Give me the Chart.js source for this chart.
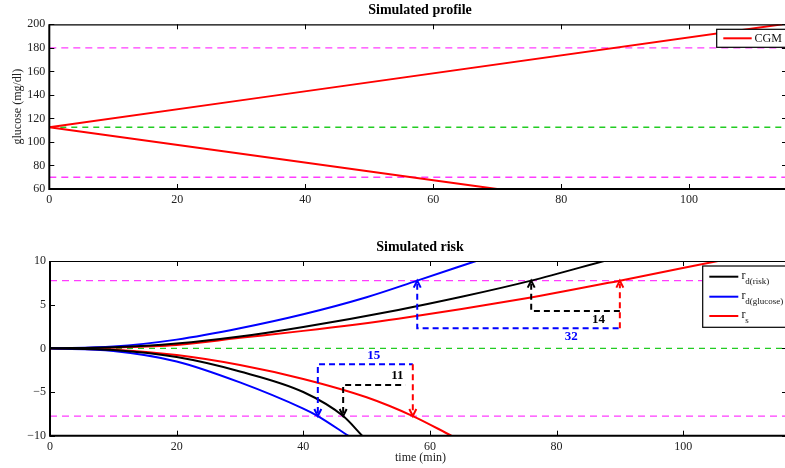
<!DOCTYPE html>
<html>
<head>
<meta charset="utf-8">
<script src="https://cdn.jsdelivr.net/npm/chart.js@4.4.0/dist/chart.umd.min.js"></script>
<style>
  html, body { margin: 0; padding: 0; background: #fff; overflow: hidden; width: 785px; height: 468px; }
  canvas { position: absolute; left: 0; }
  #profile { top: 0; }
  #risk { top: 230px; }
</style>
</head>
<body>
<canvas id="profile" width="800" height="215"></canvas>
<canvas id="risk" width="800" height="238"></canvas>
<script>
// ---- axis ticks ----
const timeTicks = [0, 20, 40, 60, 80, 100];
const glucoseTicks = [60, 80, 100, 120, 140, 160, 180, 200];
const riskTicks = [-10, -5, 0, 5, 10];

// ---- simulated glucose profile (mg/dl) ----
const cgmRiseTimes = [0, 114.6];
const cgmRiseValues = [112.5, 200];
const cgmFallTimes = [0, 70];
const cgmFallValues = [112.5, 60];
const glucoseBounds = [70, 180];
const glucoseTarget = 112.5;

// ---- simulated risk ----
const riskBounds = [-7.75, 7.75];
const riskZero = 0;

// r_d(risk)
const drRiseTimes = [0, 10, 20, 30, 40, 55, 65, 76, 87.5];
const drRiseValues = [0, 0.12, 0.55, 1.35, 2.45, 4.4, 5.9, 7.75, 10];
const drFallTimes = [0, 10, 20, 30, 40, 46.3, 49.3];
const drFallValues = [0, -0.2, -1.0, -2.65, -5.0, -7.75, -10];

// r_d(glucose)
const dgRiseTimes = [0, 10, 20, 30, 40, 50, 58, 67.3];
const dgRiseValues = [0, 0.2, 1.0, 2.3, 3.9, 5.85, 7.75, 10];
const dgFallTimes = [0, 10, 20, 30, 40, 42.3, 47.1];
const dgFallValues = [0, -0.3, -1.5, -3.9, -6.9, -7.75, -10];

// r_s
const rsRiseTimes = [0, 10, 20, 30, 40, 55, 75, 90, 105.5];
const rsRiseValues = [0, 0.1, 0.39, 1.2, 2.0, 3.4, 5.7, 7.75, 10];
const rsFallTimes = [0, 10, 20, 30, 40, 50, 57.3, 63.4];
const rsFallValues = [0, -0.15, -0.76, -1.9, -3.5, -5.6, -7.75, -10];

// threshold crossing times used for the lead-time brackets [r_d(glucose), r_d(risk), r_s]
const riseCrossings = [58, 76, 90];
const fallCrossings = [42.3, 46.3, 57.3];
// bracket heights (risk units) [r_d(glucose) bar, r_d(risk) bar]
const riseBars = [2.3, 4.28];
const fallBars = [-1.82, -4.2];

const seriesSubscripts = ['d(risk)', 'd(glucose)', 's'];
const seriesColors = ['#000000', '#0000ff', '#ff0000'];

const SERIF = '"Liberation Serif", "Times New Roman", Times, serif';
const pts = (ts, vs) => ts.map((t, i) => ({ x: t, y: vs[i] }));
const flat = (v, t1) => [{ x: 0, y: v }, { x: t1, y: v }];

function curve(label, color, data) {
  return { label, data, borderColor: color, borderWidth: 2, pointRadius: 0,
           cubicInterpolationMode: 'monotone', fill: false };
}
function refLine(color, v, t1, dash) {
  return { label: '', data: flat(v, t1), borderColor: color, borderWidth: 1.3,
           borderDash: dash, pointRadius: 0, fill: false };
}

function scaleOpts(min, max, ticks, pad, fmt) {
  return {
    type: 'linear', min, max,
    afterBuildTicks: s => { s.ticks = ticks.map(v => ({ value: v })); },
    grid: { display: false, drawTicks: false },
    border: { display: false },
    ticks: { font: { family: SERIF, size: 12 }, color: '#222', padding: pad,
             maxRotation: 0, autoSkip: false, callback: fmt || (v => String(v)) }
  };
}

// box with inward tick marks on all four sides
function drawFrame(chart) {
  const { ctx, chartArea: a } = chart;
  const xs = chart.scales.x, ys = chart.scales.y;
  ctx.save();
  ctx.strokeStyle = '#000';
  ctx.lineWidth = 1;
  ctx.beginPath();
  xs.ticks.forEach(t => {
    const p = Math.round(xs.getPixelForValue(t.value)) + 0.5;
    ctx.moveTo(p, a.bottom); ctx.lineTo(p, a.bottom - 5);
    ctx.moveTo(p, a.top); ctx.lineTo(p, a.top + 5);
  });
  ys.ticks.forEach(t => {
    const p = Math.round(ys.getPixelForValue(t.value)) + 0.5;
    ctx.moveTo(a.left, p); ctx.lineTo(a.left + 5, p);
    ctx.moveTo(a.right, p); ctx.lineTo(a.right - 5, p);
  });
  ctx.stroke();
  ctx.lineWidth = 1.2;
  ctx.beginPath();
  ctx.moveTo(a.left, a.top + 0.5); ctx.lineTo(a.right, a.top + 0.5);
  ctx.moveTo(a.right - 0.5, a.top); ctx.lineTo(a.right - 0.5, a.bottom);
  ctx.stroke();
  ctx.lineWidth = 2;
  ctx.beginPath();
  ctx.moveTo(a.left, a.top); ctx.lineTo(a.left, a.bottom);
  ctx.lineTo(a.right, a.bottom);
  ctx.stroke();
  ctx.restore();
}

function drawText(ctx, text, x, y, font, color, align) {
  ctx.save();
  ctx.font = font; ctx.fillStyle = color || '#000';
  ctx.textAlign = align || 'center'; ctx.textBaseline = 'middle';
  ctx.fillText(text, x, y);
  ctx.restore();
}

function arrowHead(ctx, x, y, up, color) {
  const d = up ? 1 : -1;
  ctx.save();
  ctx.setLineDash([]);
  ctx.strokeStyle = color; ctx.lineWidth = 2;
  ctx.beginPath();
  ctx.moveTo(x - 3.5, y + d * 7); ctx.lineTo(x, y); ctx.lineTo(x + 3.5, y + d * 7);
  ctx.stroke();
  ctx.restore();
}

function dashed(ctx, color, path) {
  ctx.save();
  ctx.strokeStyle = color; ctx.lineWidth = 2; ctx.setLineDash([6, 4]);
  ctx.beginPath();
  path.forEach((p, i) => i ? ctx.lineTo(p[0], p[1]) : ctx.moveTo(p[0], p[1]));
  ctx.stroke();
  ctx.restore();
}

// ---------------- glucose profile ----------------
new Chart(document.getElementById('profile'), {
  type: 'line',
  data: {
    datasets: [
      curve('CGM', '#ff0000', pts(cgmRiseTimes, cgmRiseValues)),
      curve('CGM', '#ff0000', pts(cgmFallTimes, cgmFallValues)),
      refLine('#ff3cff', glucoseBounds[1], 120, [7, 5]),
      refLine('#ff3cff', glucoseBounds[0], 120, [7, 5]),
      refLine('#22cc22', glucoseTarget, 120, [6, 5])
    ]
  },
  options: {
    responsive: false, animation: false,
    layout: { padding: { left: 0, right: 13, top: 24.3, bottom: 0 } },
    plugins: { legend: { display: false }, tooltip: { enabled: false }, title: { display: false } },
    scales: {
      x: Object.assign(scaleOpts(0, 115.3, timeTicks, 4), { afterFit: s => { s.height = 26; } }),
      y: Object.assign(scaleOpts(60, 200, glucoseTicks, 4), { afterFit: s => { s.width = 49.3; } })
    }
  },
  plugins: [{
    id: 'profileDecor',
    afterDraw(chart) {
      const { ctx } = chart;
      drawFrame(chart);
      drawText(ctx, 'Simulated profile', 420, 10.5, `bold 14px ${SERIF}`);
      ctx.save();
      ctx.translate(18, 106.7); ctx.rotate(-Math.PI / 2);
      drawText(ctx, 'glucose (mg/dl)', 0, 0, `12px ${SERIF}`, '#222');
      ctx.restore();
      // legend
      const ds = chart.data.datasets[0];
      ctx.save();
      ctx.fillStyle = '#fff'; ctx.strokeStyle = '#000'; ctx.lineWidth = 1.2;
      ctx.fillRect(716.7, 29.3, 90, 18);
      ctx.strokeRect(716.7, 29.3, 90, 18);
      ctx.strokeStyle = ds.borderColor; ctx.lineWidth = 2;
      ctx.beginPath(); ctx.moveTo(723.3, 38.3); ctx.lineTo(751.7, 38.3); ctx.stroke();
      ctx.restore();
      drawText(ctx, ds.label, 754.5, 38.8, `12px ${SERIF}`, '#111', 'left');
    }
  }]
});

// ---------------- risk ----------------
const riskEnd = 120;
new Chart(document.getElementById('risk'), {
  type: 'line',
  data: {
    datasets: [
      curve('r_d(risk)', seriesColors[0], pts(drRiseTimes, drRiseValues)),
      curve('r_d(risk)', seriesColors[0], pts(drFallTimes, drFallValues)),
      curve('r_d(glucose)', seriesColors[1], pts(dgRiseTimes, dgRiseValues)),
      curve('r_d(glucose)', seriesColors[1], pts(dgFallTimes, dgFallValues)),
      curve('r_s', seriesColors[2], pts(rsRiseTimes, rsRiseValues)),
      curve('r_s', seriesColors[2], pts(rsFallTimes, rsFallValues)),
      refLine('#ff3cff', riskBounds[1], riskEnd, [7, 5]),
      refLine('#ff3cff', riskBounds[0], riskEnd, [7, 5]),
      refLine('#22cc22', riskZero, riskEnd, [6, 5])
    ]
  },
  options: {
    responsive: false, animation: false,
    layout: { padding: { left: 0, right: 13, top: 31, bottom: 0 } },
    plugins: { legend: { display: false }, tooltip: { enabled: false }, title: { display: false } },
    scales: {
      x: Object.assign(scaleOpts(0, 116.4, timeTicks, 4), { afterFit: s => { s.height = 32.3; } }),
      y: Object.assign(scaleOpts(-10, 10, riskTicks, 4, v => (v < 0 ? '\u2212' + Math.abs(v) : String(v))),
                       { afterFit: s => { s.width = 50; } })
    }
  },
  plugins: [{
    id: 'riskDecor',
    afterDatasetsDraw(chart) {
      const { ctx } = chart;
      const xs = chart.scales.x, ys = chart.scales.y;
      const X = t => xs.getPixelForValue(t), Y = v => ys.getPixelForValue(v);
      const [cB, cK, cR] = [seriesColors[1], seriesColors[0], seriesColors[2]];
      const numFont = `bold 13px ${SERIF}`;

      // rising side: lead times to the upper threshold
      const [ug, ud, us] = riseCrossings;
      const top = riskBounds[1];
      dashed(ctx, cB, [[X(ug), Y(top) + 3], [X(ug), Y(riseBars[0])], [X(us), Y(riseBars[0])]]);
      dashed(ctx, cK, [[X(ud), Y(top) + 3], [X(ud), Y(riseBars[1])], [X(us), Y(riseBars[1])]]);
      dashed(ctx, cR, [[X(us), Y(riseBars[0])], [X(us), Y(top) + 3]]);
      arrowHead(ctx, X(ug), Y(top), true, cB);
      arrowHead(ctx, X(ud), Y(top), true, cK);
      arrowHead(ctx, X(us), Y(top), true, cR);
      drawText(ctx, String(Math.round(us - ug)), X(ug) + 0.76 * (X(us) - X(ug)), Y(riseBars[0]) + 8.5, numFont, cB);
      drawText(ctx, String(Math.round(us - ud)), X(ud) + 0.76 * (X(us) - X(ud)), Y(riseBars[1]) + 8.5, numFont, cK);

      // falling side: lead times to the lower threshold
      const [lg, ld, ls] = fallCrossings;
      const bot = riskBounds[0];
      dashed(ctx, cB, [[X(lg), Y(bot) - 3], [X(lg), Y(fallBars[0])], [X(ls), Y(fallBars[0])]]);
      dashed(ctx, cK, [[X(ld), Y(bot) - 3], [X(ld), Y(fallBars[1])], [X(ls - 1.2), Y(fallBars[1])]]);
      dashed(ctx, cR, [[X(ls), Y(fallBars[0])], [X(ls), Y(bot) - 3]]);
      arrowHead(ctx, X(lg), Y(bot), false, cB);
      arrowHead(ctx, X(ld), Y(bot), false, cK);
      arrowHead(ctx, X(ls), Y(bot), false, cR);
      drawText(ctx, String(Math.round(ls - lg)), X(lg) + 0.59 * (X(ls) - X(lg)), Y(fallBars[0]) - 8.5, numFont, cB);
      drawText(ctx, String(Math.round(ls - ld)), X(ld) + 0.78 * (X(ls) - X(ld)), Y(fallBars[1]) - 9, numFont, cK);
    },
    afterDraw(chart) {
      const { ctx } = chart;
      drawFrame(chart);
      drawText(ctx, 'Simulated risk', 420, 17.3, `bold 14px ${SERIF}`);
      drawText(ctx, 'time (min)', 420.5, 228.3, `12px ${SERIF}`, '#222');
      // legend with subscripted labels
      ctx.save();
      ctx.fillStyle = '#fff'; ctx.strokeStyle = '#000'; ctx.lineWidth = 1.2;
      ctx.fillRect(702.7, 36, 100, 61.3);
      ctx.strokeRect(702.7, 36, 100, 61.3);
      const rows = [46.7, 66.7, 86];
      seriesSubscripts.forEach((sub, i) => {
        const y = rows[i];
        ctx.strokeStyle = seriesColors[i]; ctx.lineWidth = 2;
        ctx.beginPath(); ctx.moveTo(709.3, y); ctx.lineTo(738.3, y); ctx.stroke();
        ctx.fillStyle = '#111'; ctx.textAlign = 'left'; ctx.textBaseline = 'alphabetic';
        ctx.font = `12px ${SERIF}`;
        ctx.fillText('r', 741.5, y + 1.8);
        ctx.font = `9px ${SERIF}`;
        ctx.fillText(sub, 745.3, y + 7.3);
      });
      ctx.restore();
    }
  }]
});
</script>
</body>
</html>
